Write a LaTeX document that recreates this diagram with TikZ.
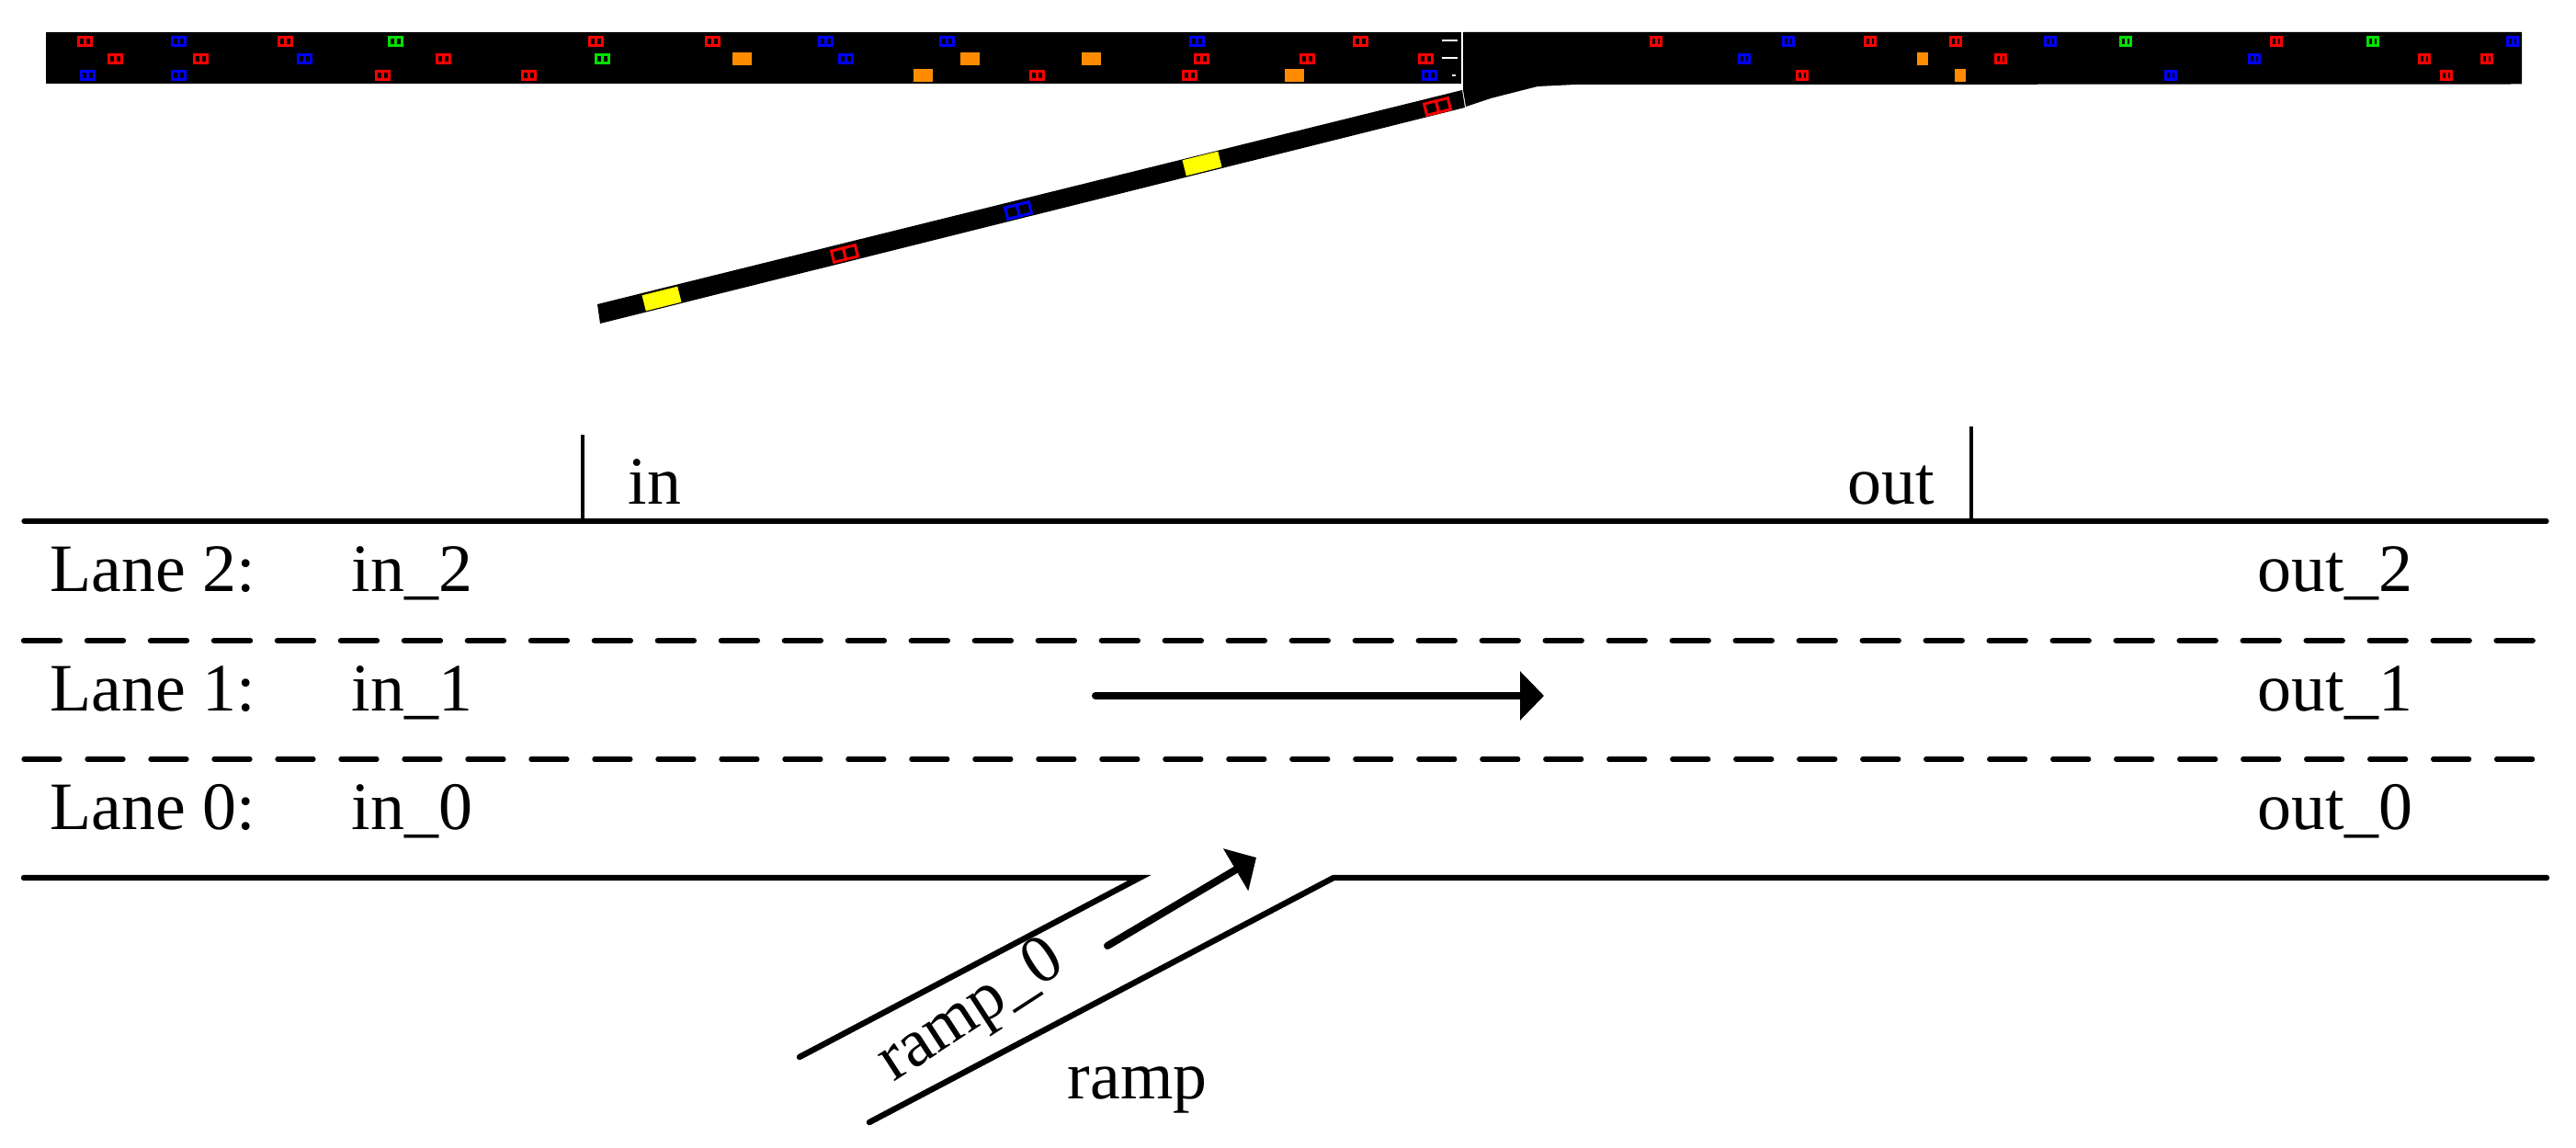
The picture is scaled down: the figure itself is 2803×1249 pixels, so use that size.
\documentclass[tikz,border=0pt]{standalone}
\usepackage{fontspec}
\setmainfont{Liberation Serif}
\usepackage{xcolor}
\usetikzlibrary{arrows.meta}
\definecolor{carred}{HTML}{FF0000}
\definecolor{carblue}{HTML}{0000FF}
\definecolor{cargreen}{HTML}{00E000}
\definecolor{truck}{HTML}{FF8C00}
\definecolor{bus}{HTML}{FFFF00}
\tikzset{
  road/.style={line width=0.052cm, line cap=round},
  roadw/.style={line width=0.064cm, line cap=round},
  lanedash/.style={dash pattern=on 0.39cm off 0.2995cm},
  tick/.style={line width=0.034cm},
  flow/.style={line width=0.08cm, line cap=round, -{Triangle[length=0.26cm,width=0.52cm]}},
  lab/.style={anchor=base west, inner sep=0pt, font=\fontsize{21}{25}\selectfont},
  car/.pic={
    \draw[line width=0.03cm, draw=#1, fill=black] (-7,-4.5) rectangle (0,4.5);
    \draw[line width=0.03cm, draw=#1, fill=black] (0,-4.5) rectangle (7,4.5);
  },
  block/.pic={\fill[#1] (-10.5,-7) rectangle (10.5,7);},
}

\begin{document}
\begin{tikzpicture}[x=0.01cm,y=-0.01cm]
  \useasboundingbox (0,0) rectangle (2803,1249);

  % simulation view
  \fill[black] (50,35) rectangle (1589.5,91.5);
  \fill[black] (1592,35) -- (2744,35) -- (2744,91.5) -- (1714,92) -- (1673,94)
    -- (1622,107) -- (1595,116) -- (1592,98) -- cycle;
  \fill[black] (650,331) -- (1591,98) -- (1594,117) -- (653,352) -- cycle;

  % cars, left of the junction
  \foreach \x/\y/\c in {92/45/carred, 194/45/carblue, 310/45/carred, 430/45/cargreen,
    648/45/carred, 775/45/carred, 898/45/carblue, 1030/45/carblue, 1302/45/carblue, 1480/45/carred,
    125/64/carred, 218/64/carred, 331/64/carblue, 482/64/carred, 655/64/cargreen,
    920/64/carblue, 1307/64/carred, 1422/64/carred, 1551/64/carred,
    95/82/carblue, 194/82/carblue, 416/82/carred, 575/82/carred,
    1128/82/carred, 1294/82/carred, 1555/82/carblue}
    \pic at (\x,\y) {car=\c};
  % cars, right of the junction
  \foreach \x/\y/\c in {1802/45/carred, 1946/45/carblue, 2035/45/carred, 2128/45/carred,
    2231/45/carblue, 2313/45/cargreen, 2477/45/carred, 2582/45/cargreen, 2734/45/carblue,
    1898/64/carblue, 2177/64/carred, 2453/64/carblue, 2638/64/carred, 2706/64/carred,
    1961/82/carred, 2362/82/carblue, 2662/82/carred}
    \pic[xscale=0.8] at (\x,\y) {car=\c};
  % long vehicles
  \foreach \x/\y in {807/64, 1055/64, 1187/64, 1004/82, 1408/82}
    \pic at (\x,\y) {block=truck};
  \foreach \x/\y in {2092/64, 2133/82}
    \pic[xscale=0.55] at (\x,\y) {block=truck};
  % on-ramp traffic
  \foreach \x/\y/\c in {919/276/carred, 1108/229/carblue, 1564/116/carred}
    \pic[rotate=14,xscale=1.9,yscale=1.4] at (\x,\y) {car=\c};
  \foreach \x/\y in {720/325, 1308/178}
    \pic[rotate=14,xscale=1.9,yscale=1.25] at (\x,\y) {block=bus};
  % detector marks
  \draw[white, line width=0.015cm] (1569,44) -- (1586,44);
  \draw[white, line width=0.015cm] (1569,63) -- (1586,63);
  \draw[white, line width=0.015cm] (1580,82) -- (1584,82);

  % layout sketch
  \coordinate (TL) at (26,567);     % top edge
  \coordinate (TR) at (2771,567);
  \coordinate (BL) at (26,955);     % bottom edge
  \coordinate (BR) at (2771,955);
  \coordinate (M1) at (1240,955);   % ramp mouth
  \coordinate (M2) at (1451,955);
  \coordinate (R1) at (870,1150);   % ramp ends
  \coordinate (R2) at (946,1221);
  \coordinate (InTop) at (634,473);
  \coordinate (InFoot) at (634,567);
  \coordinate (OutTop) at (2145,464);
  \coordinate (OutFoot) at (2145,567);

  \draw[road] (TL) -- (TR);
  \draw[roadw] (BL) -- (M1) -- (R1);
  \draw[roadw] (BR) -- (M2) -- (R2);
  \draw[roadw,lanedash] (26,697) -- (2756,697);
  \draw[road,lanedash] (26,826) -- (2756,826);
  \draw[tick] (InTop) -- (InFoot);
  \draw[tick] (OutTop) -- (OutFoot);

  \coordinate (A1) at (1192,757);   % main flow
  \coordinate (A2) at (1680,757);
  \coordinate (A3) at (1205,1029);  % ramp flow
  \coordinate (A4) at (1367,933);
  \draw[flow] (A1) -- (A2);
  \draw[flow] (A3) -- (A4);

  \node[lab] (in) at (683,548) {in};
  \node[lab] (out) at (2010,548) {out};

  \node[lab] (lane2) at (54,643) {Lane 2:};
  \node[lab] (lane1) at (54,773) {Lane 1:};
  \node[lab] (lane0) at (54,902) {Lane 0:};

  \node[lab] (in2) at (382,643) {in\_2};
  \node[lab] (in1) at (382,773) {in\_1};
  \node[lab] (in0) at (382,902) {in\_0};

  \node[lab] (out2) at (2456,643) {out\_2};
  \node[lab] (out1) at (2456,773) {out\_1};
  \node[lab] (out0) at (2456,902) {out\_0};

  \node[lab,rotate=33] (ramp0) at (972,1178) {ramp\_0};
  \node[lab] (ramp) at (1161,1195) {ramp};
\end{tikzpicture}
\end{document}
